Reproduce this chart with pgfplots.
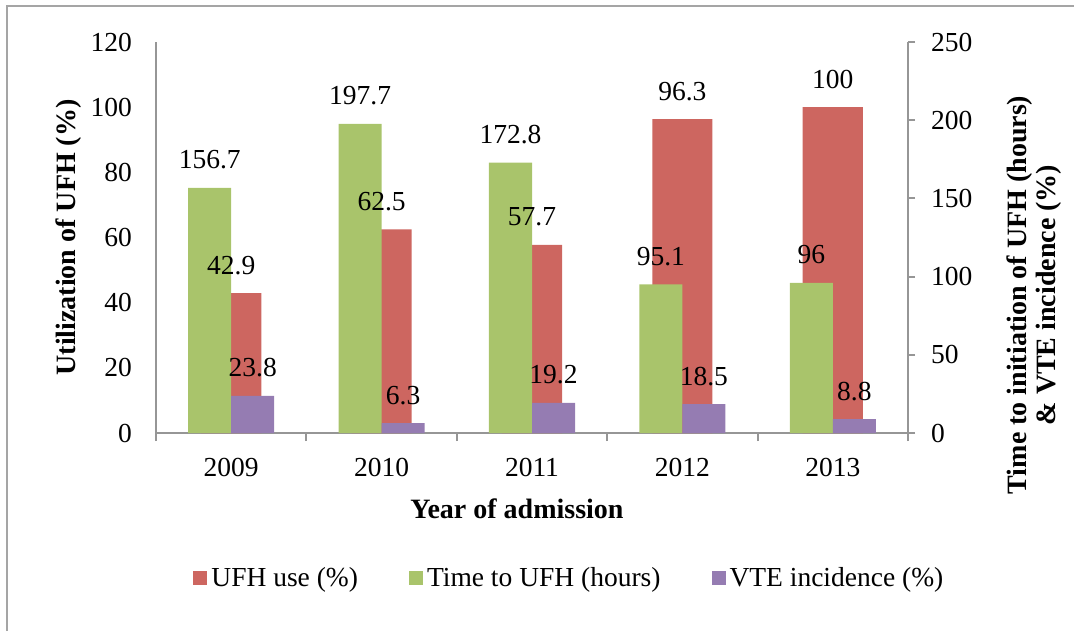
\documentclass[border=0pt]{standalone}
\usepackage{pgfplots}
\pgfplotsset{compat=1.18}
\usepackage{fontspec}
\setmainfont{Liberation Serif}
\definecolor{ufhred}{RGB}{205,102,96}
\definecolor{ufhgreen}{RGB}{169,196,107}
\definecolor{vtepurple}{RGB}{149,124,178}
\definecolor{axgray}{RGB}{150,150,150}
\definecolor{bordergray}{RGB}{165,165,165}
\newcommand{\chartfont}{\fontsize{13.75}{16}\selectfont}
\newcommand{\labfont}{\bfseries\fontsize{14}{14.5}\selectfont}
\begin{document}
\begin{tikzpicture}
\useasboundingbox (0,0) rectangle (537pt,-315.5pt);
\draw[bordergray, line width=1pt] (3.5pt,-315.5pt) -- (3.5pt,-3pt) -- (537pt,-3pt);
\pgfplotsset{
 base/.style={
  scale only axis, width=376pt, height=195.5pt,
  at={(78pt,-216.5pt)}, anchor=south west,
  xmin=-0.5, xmax=4.5, ymin=0,
  enlargelimits=false,
  /pgf/number format/assume math mode=true,
  ticklabel style={font=\chartfont},
  axis line style={axgray, line width=1pt},
  ybar,
  every node near coord/.append style={font=\chartfont, anchor=center, yshift=14pt},
 }
}
% primary axis: UFH use bars
\begin{axis}[base, ymax=120,
  axis x line*=bottom, axis y line*=left,
  xtick={0,1,2,3,4}, xticklabels={2009,2010,2011,2012,2013},
  minor xtick={-0.5,0.5,1.5,2.5,3.5,4.5},
  tick align=outside, major tick length=0pt, minor tick length=4pt,
  minor tick style={axgray, line width=1pt},
  ytick={0,20,...,120},
  xticklabel style={yshift=-9pt},
  yticklabel style={xshift=-8.5pt},
  xlabel={Year of admission}, ylabel={Utilization of UFH (\%)},
  xlabel style={at={(axis description cs:0.48,-0.194)}, anchor=center, font=\labfont},
  ylabel style={at={(axis description cs:-0.116,0.5)}, anchor=center, font=\labfont},
]
\addplot[fill=ufhred, draw=none, bar width=0.4, bar shift=0] coordinates {(0,42.9) (1,62.5) (2,57.7) (3,96.3) (4,100)};
\end{axis}
% secondary axis: time and VTE bars
\begin{axis}[base, ymax=250,
  axis y line*=right, axis x line=none,
  ytick={0,50,...,250},
  tick align=outside, major tick length=3.5pt,
  tick style={axgray, line width=1pt},
  yticklabel style={xshift=4.5pt},
  ylabel={Time to initiation of UFH (hours)\\\& VTE incidence (\%)},
  ylabel style={at={(axis description cs:1.1676,0.353)}, anchor=center, align=center, font=\labfont},
  nodes near coords,
  legend columns=3,
  legend image code/.code={\fill[#1] (0pt,-3.5pt) rectangle (7pt,3.5pt);},
  legend style={at={(axis description cs:0.0492,-0.371)}, anchor=west, draw=none, fill=none, inner sep=0pt, font=\chartfont},
]
\addlegendimage{fill=ufhred, draw=none}
\addlegendentry{UFH use (\%)\hspace*{23.5pt}\null}
\addplot[fill=ufhgreen, draw=none, bar width=0.286, bar shift=-0.143] coordinates {(0,156.7) (1,197.7) (2,172.8) (3,95.1) (4,96)};
\addlegendentry{Time to UFH (hours)\hspace*{23.5pt}\null}
\addplot[fill=vtepurple, draw=none, bar width=0.286, bar shift=0.143] coordinates {(0,23.8) (1,6.3) (2,19.2) (3,18.5) (4,8.8)};
\addlegendentry{VTE incidence (\%)}
\end{axis}
% labels of the UFH use bars, drawn on top
\begin{axis}[base, ymax=120, hide axis, nodes near coords]
\addplot[draw=none, fill=none, bar width=0.4, bar shift=0] coordinates {(0,42.9) (1,62.5) (2,57.7) (3,96.3) (4,100)};
\end{axis}
\end{tikzpicture}
\end{document}
